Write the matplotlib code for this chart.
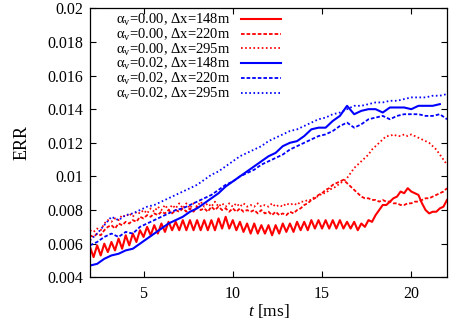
import numpy as np
import matplotlib
matplotlib.use("Agg")
import matplotlib.pyplot as plt

plt.rcParams['font.family'] = ['Liberation Serif', 'DejaVu Serif']
plt.rcParams['mathtext.fontset'] = 'custom'
plt.rcParams['mathtext.rm'] = 'Liberation Serif'
plt.rcParams['mathtext.it'] = 'Liberation Serif:italic'

# time grids [ms]
t_fine = np.round(np.arange(2.0, 22.0001, 0.2), 2)
t_coarse = np.round(np.arange(2.0, 22.0001, 0.4), 2)
t_coarse_148 = t_coarse[:-1]

# alpha_v = 0.00
err_a000_148 = [
    0.0058, 0.0052, 0.0059, 0.0053, 0.0060, 0.0055, 0.0061, 0.0056, 0.0063, 0.0057,
    0.0065, 0.0059, 0.0066, 0.0061, 0.0068, 0.0064, 0.0070, 0.0065, 0.0071, 0.0066,
    0.0072, 0.0067, 0.0073, 0.0068, 0.0073, 0.0068, 0.0074, 0.0068, 0.0074, 0.0068,
    0.0074, 0.0068, 0.0074, 0.0068, 0.0074, 0.0068, 0.0075, 0.0069, 0.0076, 0.0069,
    0.0074, 0.0068, 0.0073, 0.0067, 0.0072, 0.0066, 0.0072, 0.0066, 0.0071, 0.0066,
    0.0071, 0.0065, 0.0071, 0.0066, 0.0072, 0.0067, 0.0072, 0.0067, 0.0073, 0.0068,
    0.0073, 0.0068, 0.0074, 0.0069, 0.0074, 0.0069, 0.0074, 0.0069, 0.0074, 0.0069,
    0.0074, 0.0069, 0.0073, 0.0069, 0.0073, 0.0068, 0.0072, 0.0070, 0.0074, 0.0073,
    0.0077, 0.0080, 0.0083, 0.0083, 0.0085, 0.0087, 0.0088, 0.0091, 0.0090, 0.0093,
    0.0091, 0.0090, 0.0089, 0.0084, 0.0080, 0.0078, 0.0079, 0.0079, 0.0081, 0.0082,
    0.0086]
err_a000_220 = [
    0.0065, 0.0064, 0.0066, 0.0065, 0.0068, 0.0070, 0.0071, 0.0069, 0.0072, 0.0071,
    0.0073, 0.0072, 0.0074, 0.0073, 0.0076, 0.0075, 0.0077, 0.0076, 0.0078, 0.0077,
    0.0079, 0.0078, 0.0080, 0.0078, 0.0080, 0.0079, 0.0081, 0.0079, 0.0081, 0.0079,
    0.0082, 0.0080, 0.0081, 0.0079, 0.0082, 0.0080, 0.0082, 0.0080, 0.0081, 0.0079,
    0.0081, 0.0079, 0.0081, 0.0079, 0.0080, 0.0079, 0.0080, 0.0078, 0.0080, 0.0078,
    0.0079, 0.0077, 0.0079, 0.0077, 0.0078, 0.0077, 0.0079, 0.0078, 0.0080, 0.0081,
    0.0083, 0.0084, 0.0086, 0.0087, 0.0089, 0.0090, 0.0092, 0.0093, 0.0095, 0.0096,
    0.0097, 0.0098, 0.0096, 0.0094, 0.0092, 0.0090, 0.0088, 0.0087, 0.0087, 0.0086,
    0.0086, 0.0085, 0.0086, 0.0085, 0.0085, 0.0084, 0.0084, 0.0083, 0.0083, 0.0084,
    0.0084, 0.0085, 0.0085, 0.0086, 0.0087, 0.0087, 0.0088, 0.0089, 0.0090, 0.0091,
    0.0093]
err_a000_295 = [
    0.0068, 0.0067, 0.0069, 0.0068, 0.0072, 0.0074, 0.0073, 0.0075, 0.0074, 0.0077,
    0.0076, 0.0078, 0.0076, 0.0079, 0.0078, 0.0080, 0.0078, 0.0081, 0.0079, 0.0082,
    0.0080, 0.0083, 0.0080, 0.0083, 0.0081, 0.0084, 0.0081, 0.0084, 0.0081, 0.0084,
    0.0082, 0.0085, 0.0082, 0.0084, 0.0082, 0.0085, 0.0082, 0.0084, 0.0082, 0.0084,
    0.0082, 0.0084, 0.0082, 0.0084, 0.0082, 0.0083, 0.0082, 0.0084, 0.0082, 0.0083,
    0.0082, 0.0084, 0.0082, 0.0083, 0.0082, 0.0084, 0.0083, 0.0084, 0.0083, 0.0085,
    0.0085, 0.0086, 0.0086, 0.0088, 0.0088, 0.0090, 0.0090, 0.0092, 0.0093, 0.0094,
    0.0096, 0.0097, 0.0099, 0.0102, 0.0105, 0.0107, 0.0109, 0.0111, 0.0113, 0.0116,
    0.0118, 0.0120, 0.0122, 0.0124, 0.0124, 0.0125, 0.0124, 0.0124, 0.0125, 0.0124,
    0.0125, 0.0124, 0.0123, 0.0122, 0.0121, 0.0120, 0.0118, 0.0116, 0.0113, 0.0110,
    0.0107]

# alpha_v = 0.02
err_a002_148 = [
    0.0047, 0.0048, 0.0051, 0.0053, 0.0054, 0.0056, 0.0057, 0.0060, 0.0063, 0.0066,
    0.0069, 0.0072, 0.0074, 0.0076, 0.0079, 0.0081, 0.0084, 0.0087, 0.0090, 0.0094,
    0.0097, 0.0100, 0.0103, 0.0106, 0.0109, 0.0112, 0.0114, 0.0118, 0.0120, 0.0121,
    0.0124, 0.0128, 0.0129, 0.0129, 0.0133, 0.0136, 0.0142, 0.0137, 0.0139, 0.0140,
    0.0140, 0.0138, 0.0141, 0.0141, 0.0141, 0.0140, 0.0142, 0.0142, 0.0142, 0.0143]
err_a002_220 = [
    0.0059, 0.0061, 0.0064, 0.0066, 0.0064, 0.0067, 0.0066, 0.0070, 0.0072, 0.0074,
    0.0076, 0.0078, 0.0080, 0.0081, 0.0083, 0.0085, 0.0087, 0.0089, 0.0092, 0.0095,
    0.0097, 0.0100, 0.0102, 0.0104, 0.0107, 0.0109, 0.0111, 0.0113, 0.0116, 0.0118,
    0.0120, 0.0122, 0.0124, 0.0125, 0.0127, 0.0130, 0.0132, 0.0129, 0.0131, 0.0134,
    0.0135, 0.0136, 0.0134, 0.0136, 0.0137, 0.0137, 0.0137, 0.0136, 0.0136, 0.0137,
    0.0134]
err_a002_295 = [
    0.0062, 0.0066, 0.0071, 0.0076, 0.0074, 0.0077, 0.0078, 0.0080, 0.0082, 0.0083,
    0.0085, 0.0087, 0.0089, 0.0091, 0.0093, 0.0095, 0.0098, 0.0101, 0.0103, 0.0106,
    0.0109, 0.0112, 0.0114, 0.0116, 0.0118, 0.0121, 0.0123, 0.0125, 0.0127, 0.0128,
    0.0130, 0.0132, 0.0134, 0.0135, 0.0137, 0.0138, 0.0140, 0.0142, 0.0142, 0.0143,
    0.0144, 0.0144, 0.0145, 0.0145, 0.0146, 0.0147, 0.0147, 0.0147, 0.0148, 0.0148,
    0.0149]

labels = [
    'α$_{\\rm v}$=0.00, Δx=148m',
    'α$_{\\rm v}$=0.00, Δx=220m',
    'α$_{\\rm v}$=0.00, Δx=295m',
    'α$_{\\rm v}$=0.02, Δx=148m',
    'α$_{\\rm v}$=0.02, Δx=220m',
    'α$_{\\rm v}$=0.02, Δx=295m',
]
x_ticks = [5, 10, 15, 20]
y_ticks = [0.004, 0.006, 0.008, 0.01, 0.012, 0.014, 0.016, 0.018, 0.02]
y_ticklabels = ['0.004', '0.006', '0.008', '0.01', '0.012', '0.014', '0.016', '0.018', '0.02']

dashed = (0, (2.0, 1.1))
dotted = (0, (0.9, 1.4))

fig = plt.figure(figsize=(4.58, 3.21), dpi=100)
ax = fig.add_axes([90/458, 1-277.3/321, (447-90)/458, (277.3-8.3)/321])

ax.plot(t_fine, err_a000_148, color='#ff0000', lw=1.5, ls='-', label=labels[0])
ax.plot(t_fine, err_a000_220, color='#ff0000', lw=1.3, ls=dashed, label=labels[1])
ax.plot(t_fine, err_a000_295, color='#ff0000', lw=1.3, ls=dotted, label=labels[2])
ax.plot(t_coarse_148, err_a002_148, color='#0000ff', lw=1.5, ls='-', label=labels[3])
ax.plot(t_coarse, err_a002_220, color='#0000ff', lw=1.3, ls=dashed, label=labels[4])
ax.plot(t_coarse, err_a002_295, color='#0000ff', lw=1.3, ls=dotted, label=labels[5])

ax.set_xlim(2, 22)
ax.set_ylim(0.004, 0.02)
ax.set_xticks(x_ticks)
ax.set_yticks(y_ticks)
ax.set_yticklabels(y_ticklabels)
ax.tick_params(direction='in', length=4, width=0.8, top=True, right=True,
               labelsize=11.5, colors='black')
ax.tick_params(axis='x', pad=6)
ax.tick_params(axis='y', pad=5)
for s in ax.spines.values():
    s.set_linewidth(0.9)

ax.set_ylabel('ERR', fontsize=13, labelpad=12)
ax.set_xlabel('$t$ [ms]', fontsize=12.5, labelpad=0)

leg = ax.legend(loc='upper left', bbox_to_anchor=(113/458, 1-9/321),
                bbox_transform=fig.transFigure, frameon=False, markerfirst=False,
                fontsize=10.5, handlelength=2.8, handletextpad=0.7,
                labelspacing=-0.09, borderpad=0.2, borderaxespad=0)

fig.savefig('out.png', dpi=100)
